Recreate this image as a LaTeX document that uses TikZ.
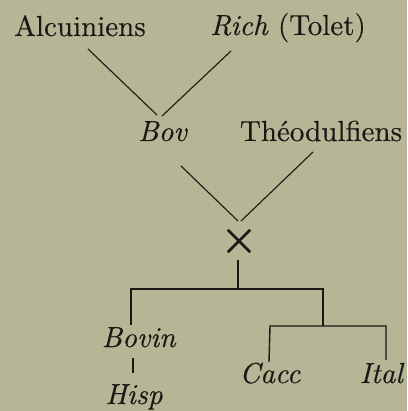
\documentclass[tikz,border=0pt]{standalone}
\usepackage{fontspec}
\setmainfont{lmroman10-regular.otf}[ItalicFont=lmroman10-italic.otf,FakeBold=0.3]
\usepackage{tikz}
\definecolor{bg}{RGB}{182,181,150}
\definecolor{ink}{RGB}{25,25,20}
\begin{document}
\begin{tikzpicture}[x=1pt,y=-1pt,
  lbl/.style={inner sep=0pt,anchor=base,text=ink,font=\fontsize{29}{34}\selectfont},
  ln/.style={draw=ink,line width=1.1pt},
  bar/.style={draw=ink,line width=1.4pt}]
\fill[bg] (0,0) rectangle (407,411);
\useasboundingbox (0,0) rectangle (407,411);
% labels
\node[lbl] (alc) at (80,36) {Alcuiniens};
\node[lbl] (rich) at (288,35) {\textit{Rich} (Tolet)};
\node[lbl] (bov) at (163,141) {\textit{Bov}};
\node[lbl] (theo) at (321,141) {Théodulfiens};
\node[lbl] (bovin) at (139,347) {\textit{Bovin}};
\node[lbl] (hisp) at (134,404) {\textit{Hisp}};
\node[lbl] (cacc) at (270,383) {\textit{Cacc}};
\node[lbl] (ital) at (382,383) {\textit{Ital}};
% cross
\node[inner sep=0pt,minimum size=22pt] (x) at (239,241) {};
\draw[ink,line width=2.6pt] (x.north west) -- (x.south east);
\draw[ink,line width=2.6pt] (x.north east) -- (x.south west);
% junction coordinates
\coordinate (a1) at (88,49);
\coordinate (r1) at (231,51);
\coordinate (b1) at (157,115);
\coordinate (b2) at (162,116);
\coordinate (bo1) at (181,166);
\coordinate (t1) at (313,152);
\coordinate (x1) at (238,221);
\coordinate (x2) at (241,221);
\coordinate (xs) at (238,260);
\coordinate (xb) at (238,289);
\coordinate (hl) at (131,289);
\coordinate (hr) at (323,289);
\coordinate (bl) at (131,325);
\coordinate (br) at (323,326);
\coordinate (sl) at (270,326);
\coordinate (sr) at (386,326);
\coordinate (cl) at (269,362);
\coordinate (cr) at (386,360);
\coordinate (v1) at (133,358);
\coordinate (v2) at (133,373);
% connectors
\draw[ln] (a1) -- (b1);
\draw[ln] (r1) -- (b2);
\draw[ln] (bo1) -- (x1);
\draw[ln] (t1) -- (x2);
\draw[bar] (xs) -- (xb);
\draw[bar] (bl) -- (hl) -- (hr) -- (br);
\draw[bar] (cl) -- (sl) -- (sr) -- (cr);
\draw[bar] (v1) -- (v2);
\end{tikzpicture}
\end{document}
